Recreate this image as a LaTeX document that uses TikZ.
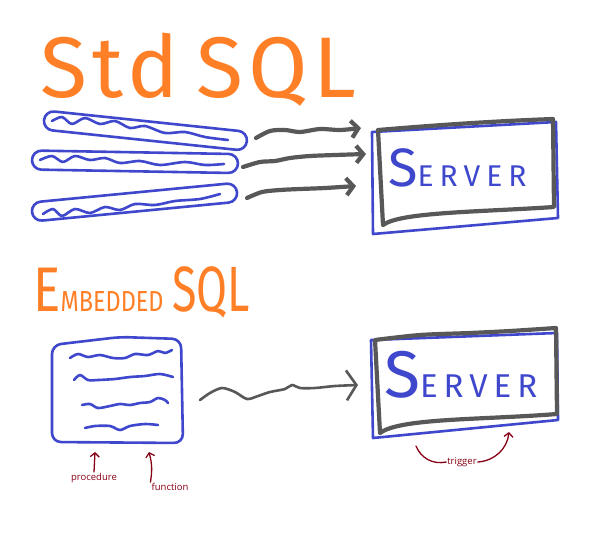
\documentclass[tikz,border=0pt]{standalone}
\usepackage{fontspec}
\newfontfamily\handfont{Fira Sans}
\newfontfamily\notefont{Open Sans}
\usetikzlibrary{arrows.meta,positioning}

\definecolor{paintorange}{RGB}{255,127,39}
\definecolor{paintblue}{RGB}{63,72,204}
\definecolor{paintgray}{RGB}{88,88,88}
\definecolor{paintred}{RGB}{136,0,21}

\tikzset{
  pen/.style={draw=paintblue, line width=2.6pt, line cap=round, line join=round},
  marker/.style={draw=paintgray, line width=4.2pt, line cap=round, line join=round},
  thinmarker/.style={draw=paintgray, line width=2.6pt, line cap=round, line join=round},
  barb/.style={-{Straight Barb[length=7pt,width=17pt]}},
  bigbarb/.style={-{Straight Barb[length=10pt,width=30pt]}},
  note/.style={draw=paintred, line width=1.3pt, line cap=round},
  notetip/.style={-{Straight Barb[length=4pt,width=9pt]}},
  notetext/.style={text=paintred, font=\notefont\fontsize{9.5}{11}\selectfont, inner sep=1pt},
  title/.style={text=paintorange, font=\handfont, inner sep=0pt, anchor=base west},
  servertext/.style={text=paintblue, font=\handfont, inner sep=0pt, anchor=base west}
}

\begin{document}
\begin{tikzpicture}[x=1pt, y=-1pt]
    \fill[white] (0,0) rectangle (602,533);
    \useasboundingbox (0,0) rectangle (602,533);

    % Std SQL
    \node[title] (stdtitle) at (40,97) {\addfontfeature{LetterSpace=6}\fontsize{86}{90}\selectfont Std\hspace{18pt}SQL};

    % query lines
    \draw[pen, rounded corners=9.5pt, rotate around={-6:(44,120)}] (44,110.5) rectangle (248,129.5);
    \draw[pen] plot[smooth] coordinates {(52,121) (62,117) (72,124) (85,118) (100,124) (115,121) (130,128) (145,126) (165,133) (185,132) (205,137) (228,140)};
    \draw[pen, rounded corners=9.5pt, rotate around={-1:(32,160)}] (32,150.5) rectangle (238,169.5);
    \draw[pen] plot[smooth] coordinates {(40,160) (52,156) (63,162) (75,156) (90,160) (105,158) (120,163) (140,161) (160,165) (185,162) (205,165) (224,164)};
    \draw[pen, rounded corners=9.5pt, rotate around={5.5:(32,212)}] (32,202.5) rectangle (238,221.5);
    \draw[pen] plot[smooth] coordinates {(43,214) (53,209) (62,216) (75,209) (90,213) (105,207) (120,210) (135,204) (155,205) (175,201) (200,199) (220,194)};

    % server 1
    \draw[pen] (372,132) -- (556,122) -- (558,218) -- (373,234) -- cycle;
    \draw[marker] (378,130) .. controls (450,124) and (500,121) .. (553,119) -- (554,207)
        .. controls (480,212) and (400,212) .. (383,225) -- cycle;
    \node[servertext] (srvtext1) at (388,186) {\fontsize{54}{56}\selectfont S\addfontfeature{LetterSpace=20}\fontsize{30}{32}\selectfont ERVER};

    % arrows to server 1
    \coordinate (a1s) at (256,138);
    \coordinate (a1e) at (361,128);
    \coordinate (a2s) at (243,167);
    \coordinate (a2e) at (366,154);
    \coordinate (a3s) at (247,198);
    \coordinate (a3e) at (356,186);
    \draw[marker, barb] plot[smooth] coordinates {(a1s) (270,131) (285,130) (300,132) (320,129) (340,130) (a1e)};
    \draw[marker, barb] plot[smooth] coordinates {(a2s) (260,162) (275,161) (290,158) (310,156) (335,155) (a2e)};
    \draw[marker, barb] plot[smooth] coordinates {(a3s) (262,192) (280,190) (300,189) (325,188) (a3e)};

    % Embedded SQL
    \node[title] (embtitle) at (33,311) {\scalebox{0.81}[1]{\fontsize{63}{66}\selectfont E\fontsize{29}{30}\selectfont MBEDDED}\hspace{9pt}\scalebox{0.7}[1]{\fontsize{64}{66}\selectfont SQL}};

    % program text
    \draw[pen, rounded corners=9pt] (52,345) -- (120,337) -- (181,339) -- (183,443) -- (52,442) -- cycle;
    \draw[pen] plot[smooth] coordinates {(70,358) (78,354) (88,357) (100,355) (113,358) (125,358) (135,354) (148,355) (158,351) (165,353) (172,350)};
    \draw[pen] plot[smooth] coordinates {(74,380) (80,375) (88,380) (98,380) (115,379) (130,377) (145,376) (160,374) (173,377)};
    \draw[pen] plot[smooth] coordinates {(82,405) (90,404) (98,408) (110,406) (120,404) (130,405) (140,403) (150,402) (158,398) (165,400) (168,403)};
    \draw[pen] plot[smooth] coordinates {(85,428) (95,426) (110,426) (120,430) (130,426) (145,424) (158,425)};

    % server 2
    \draw[pen] (371,340) -- (557,333) -- (558,420) -- (373,438) -- cycle;
    \draw[marker] plot[smooth] coordinates {(375,340) (420,335) (470,333) (510,331) (556,328)} -- (557,414)
        .. controls (480,420) and (400,418) .. (380,433) -- cycle;
    \node[servertext] (srvtext2) at (384,397) {\fontsize{66}{68}\selectfont S\addfontfeature{LetterSpace=18}\fontsize{33}{35}\selectfont ERVER};

    % wavy arrow to server 2
    \coordinate (ws) at (200,400);
    \coordinate (we) at (358,385);
    \draw[thinmarker, bigbarb] plot[smooth] coordinates {(ws) (210,393) (222,388) (235,392) (247,399) (258,396) (270,392) (285,389) (292,385) (300,388) (315,388) (335,386) (we)};

    % notes
    \node[notetext] (procedure) at (94,478) {procedure};
    \node[notetext] (function) at (170,487) {function};
    \node[notetext] (trigger) at (462,462) {trigger};
    \coordinate (proctip) at (95,452);
    \coordinate (functip) at (149,452);
    \coordinate (trigstart) at (416,446);
    \coordinate (trigtip) at (509,432);
    \draw[note, notetip] (procedure.north) -- (proctip);
    \draw[note, notetip] (function.north west) to[bend right=12] (functip);
    \draw[note] (trigstart) to[bend right=40] (trigger.west);
    \draw[note, notetip] (trigger.east) to[bend right=40] (trigtip);
\end{tikzpicture}
\end{document}
